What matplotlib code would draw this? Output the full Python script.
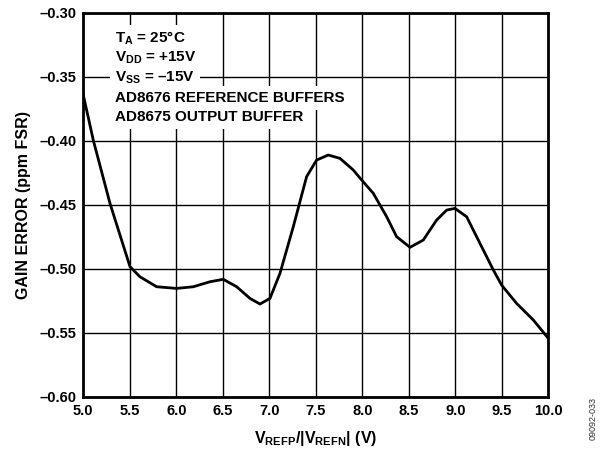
import matplotlib
matplotlib.use("Agg")
import matplotlib.pyplot as plt

plt.rcParams['font.family'] = ['Liberation Sans', 'DejaVu Sans']
plt.rcParams['font.weight'] = 'bold'
plt.rcParams['mathtext.fontset'] = 'custom'
plt.rcParams['mathtext.rm'] = 'Liberation Sans:bold'
plt.rcParams['mathtext.it'] = 'Liberation Sans:bold'
plt.rcParams['mathtext.bf'] = 'Liberation Sans:bold'

# Data
vref = [5.0, 5.107, 5.287, 5.502, 5.609, 5.789, 6.004, 6.183, 6.362, 6.505,
        6.649, 6.792, 6.900, 7.007, 7.115, 7.258, 7.401, 7.509, 7.634, 7.760,
        7.903, 7.993, 8.118, 8.262, 8.369, 8.513, 8.656, 8.799, 8.907, 8.996,
        9.122, 9.265, 9.409, 9.498, 9.659, 9.839, 10.0]
gain_error = [-0.3643, -0.3995, -0.449, -0.4984, -0.5063, -0.5141, -0.5154, -0.5141,
              -0.5102, -0.5083, -0.5141, -0.5232, -0.5276, -0.5232, -0.5036, -0.4672,
              -0.4281, -0.4151, -0.4112, -0.4138, -0.4229, -0.4307, -0.4411, -0.4594,
              -0.475, -0.4833, -0.4776, -0.462, -0.4542, -0.4529, -0.4594, -0.4802,
              -0.501, -0.5128, -0.5271, -0.5401, -0.5544]

xticks = [5.0, 5.5, 6.0, 6.5, 7.0, 7.5, 8.0, 8.5, 9.0, 9.5, 10.0]
yticks = [-0.60, -0.55, -0.50, -0.45, -0.40, -0.35, -0.30]

annot_lines = [r'$\mathrm{T_A}$ = 25°C',
               r'$\mathrm{V_{DD}}$ = +15V',
               r'$\mathrm{V_{SS}}$ = –15V',
               'AD8676 REFERENCE BUFFERS',
               'AD8675 OUTPUT BUFFER']

fig = plt.figure(figsize=(6.03, 4.5), dpi=100)
ax = fig.add_axes([83.3 / 603, (450 - 396.7) / 450, 465 / 603, 384 / 450])

ax.plot(vref, gain_error, color='black', lw=2.0, zorder=5, solid_capstyle='round')

ax.set_xlim(5.0, 10.0)
ax.set_ylim(-0.60, -0.30)
ax.set_xticks(xticks)
ax.set_yticks(yticks)
ax.set_xticklabels([f'{t:.1f}' for t in xticks], fontsize=10.5, fontweight='bold')
ax.set_yticklabels([f'{t:.2f}'.replace('-', '–') for t in yticks], fontsize=10.5, fontweight='bold')
ax.tick_params(axis='x', length=0, pad=5)
ax.tick_params(axis='y', length=0, pad=5)
ax.grid(True, color='black', lw=1.0, zorder=1)
ax.set_axisbelow(True)
for s in ax.spines.values():
    s.set_linewidth(2.0)
    s.set_zorder(6)

ax.set_xlabel(r'$\mathrm{V_{REFP}}$/|$\mathrm{V_{REFN}}$| (V)', fontsize=11.5, fontweight='bold')
ax.xaxis.set_label_coords(0.5, (396.7 - 443) / 384)
ax.xaxis.label.set_va('baseline')
ax.set_ylabel('GAIN ERROR (ppm FSR)', fontsize=11.5, fontweight='bold')
ax.yaxis.set_label_coords((31 - 83.3) / 465, 0.5)

# annotation lines with white backgrounds that mask grid lines
x0 = (115 - 83.3) / 465
baselines = [43, 62, 82, 102, 121]
for txt, b in zip(annot_lines, baselines):
    ax.text(x0, (396.7 - b) / 384, txt, transform=ax.transAxes, fontsize=11,
            fontweight='bold', va='baseline', ha='left', zorder=4,
            bbox=dict(facecolor='white', edgecolor='none', pad=3.5))

fig.text(593 / 603, 1 - 418 / 450, '09092-033', rotation=90, fontsize=6.5,
         fontweight='normal', ha='center', va='center', color='#333333')

fig.savefig('out.png', dpi=100)
